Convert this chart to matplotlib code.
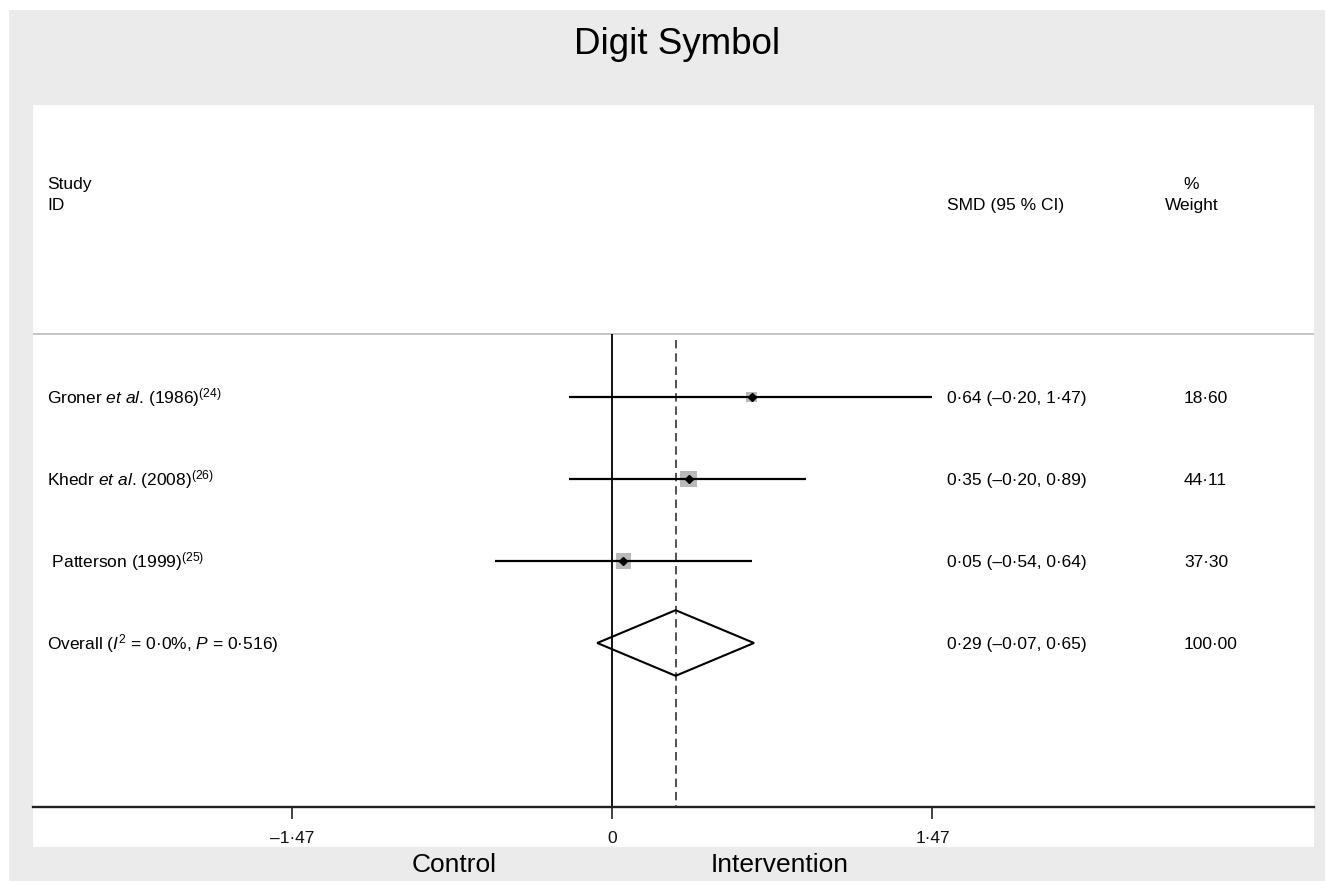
import numpy as np
import matplotlib
matplotlib.use("Agg")
import matplotlib.pyplot as plt
from matplotlib.patches import Rectangle, Polygon
from matplotlib.transforms import blended_transform_factory

# ---------------- data ----------------
study_labels = [
    r"Groner $\mathit{et\ al}$. (1986)$^{(24)}$",
    r"Khedr $\mathit{et\ al}$. (2008)$^{(26)}$",
    r" Patterson (1999)$^{(25)}$",
]
overall_label = r"Overall ($I^2$ = 0·0%, $P$ = 0·516)"
smd = [0.64, 0.35, 0.05]
ci_low = [-0.20, -0.20, -0.54]
ci_high = [1.47, 0.89, 0.64]
weights = [18.60, 44.11, 37.30]
overall_smd = 0.29
overall_low = -0.07
overall_high = 0.65
overall_weight = 100.00
tick_values = [-1.47, 0, 1.47]
tick_labels = ["–1·47", "0", "1·47"]
title = "Digit Symbol"
left_label = "Control"
right_label = "Intervention"

# ---------------- style ----------------
plt.rcParams['font.family'] = ['Liberation Sans', 'DejaVu Sans']
plt.rcParams['mathtext.fontset'] = 'custom'
plt.rcParams['mathtext.rm'] = 'Liberation Sans'
plt.rcParams['mathtext.it'] = 'Liberation Sans:italic'
plt.rcParams['mathtext.bf'] = 'Liberation Sans:bold'

W, H = 1325, 881
fig = plt.figure(figsize=(W / 100, H / 100), dpi=100)
fig.patch.set_facecolor('white')

def fx(px):
    return px / W

def fy(py):
    return 1 - py / H

# grey outer panel and white plot panel
fig.patches.append(Rectangle((fx(9), 0), 1 - fx(9), fy(10), transform=fig.transFigure,
                             facecolor='#ebebeb', edgecolor='none', zorder=-2))
fig.patches.append(Rectangle((fx(33), fy(847)), fx(1314) - fx(33), fy(105) - fy(847),
                             transform=fig.transFigure, facecolor='white',
                             edgecolor='none', zorder=-1))

ax = fig.add_axes([fx(33), fy(807), fx(1314) - fx(33), fy(105) - fy(807)])
ax.set_facecolor('white')

px_per_unit = 320 / 1.47
zero_px = 612.5
ax.set_xlim((33 - zero_px) / px_per_unit, (1314 - zero_px) / px_per_unit)
row_px0, row_step = 397, 82
def ry(py):
    return (py - row_px0) / row_step
ax.set_ylim(ry(807), ry(105))

for s in ['top', 'left', 'right']:
    ax.spines[s].set_visible(False)
ax.spines['bottom'].set_color('#222222')
ax.spines['bottom'].set_linewidth(1.7)
ax.set_yticks([])
ax.set_xticks(tick_values, tick_labels)
ax.tick_params(axis='x', length=8.6, width=1.1, direction='out', pad=9,
               labelsize=12.5, colors='#111111')

hdr_y = ry(334)
ax.axhline(hdr_y, color='#c4c4c4', lw=1.4, zorder=1)
ax.plot([0, 0], [hdr_y, ry(807)], color='black', lw=1.3, zorder=2, solid_capstyle='butt')
ax.plot([overall_smd, overall_smd], [ry(340), ry(807)], color='#222222', lw=1.1,
        linestyle=(0, (5.5, 3.2)), zorder=2)

rows = np.arange(len(smd))
# weight squares (area proportional to weight)
ax.scatter(smd, rows, s=[3.24 * w for w in weights], marker='s', color='#bababa',
           edgecolors='none', zorder=3)
# CI lines
for i in rows:
    ax.plot([ci_low[i], ci_high[i]], [i, i], color='black', lw=1.6, zorder=4,
            solid_capstyle='butt')
# point estimates
ax.plot(smd, rows, linestyle='none', marker='D', markersize=4.3, color='black', zorder=5)

# overall diamond
oy = len(smd)
h = 0.40
ax.add_patch(Polygon([[overall_low, oy], [overall_smd, oy - h], [overall_high, oy],
                      [overall_smd, oy + h]], closed=True, fill=False,
                     edgecolor='black', lw=1.5, zorder=5))

# ---------------- texts ----------------
trans = blended_transform_factory(ax.transAxes, ax.transData)
fs = 12.5
base = 6 / row_step
def ax_x(px):
    return (px - 33) / (1314 - 33)

ax.text(ax_x(47), ry(189), "Study", transform=trans, fontsize=fs, va='baseline', ha='left')
ax.text(ax_x(47), ry(210), "ID", transform=trans, fontsize=fs, va='baseline', ha='left')
ax.text(ax_x(947), ry(210), "SMD (95 % CI)", transform=trans, fontsize=fs, va='baseline', ha='left')
ax.text(ax_x(1191), ry(189), "%", transform=trans, fontsize=fs, va='baseline', ha='center')
ax.text(ax_x(1192), ry(210), "Weight", transform=trans, fontsize=fs, va='baseline', ha='center')

def fmt(v):
    return f"{v:.2f}".replace('.', '·').replace('-', '–')

labels_all = study_labels + [overall_label]
est_all = smd + [overall_smd]
lo_all = ci_low + [overall_low]
hi_all = ci_high + [overall_high]
w_all = weights + [overall_weight]
for i in range(len(labels_all)):
    ax.text(ax_x(47), i + base, labels_all[i], transform=trans, fontsize=fs,
            va='baseline', ha='left')
    ax.text(ax_x(947), i + base, f"{fmt(est_all[i])} ({fmt(lo_all[i])}, {fmt(hi_all[i])})",
            transform=trans, fontsize=fs, va='baseline', ha='left')
    ax.text(ax_x(1184), i + base, fmt(w_all[i]), transform=trans, fontsize=fs,
            va='baseline', ha='left')

fig.text(fx(677), fy(54), title, ha='center', va='baseline', fontsize=26.5)
fig.text(fx(454), fy(872), left_label, ha='center', va='baseline', fontsize=19)
fig.text(fx(780), fy(872), right_label, ha='center', va='baseline', fontsize=19)

fig.savefig('out.png', dpi=100)
